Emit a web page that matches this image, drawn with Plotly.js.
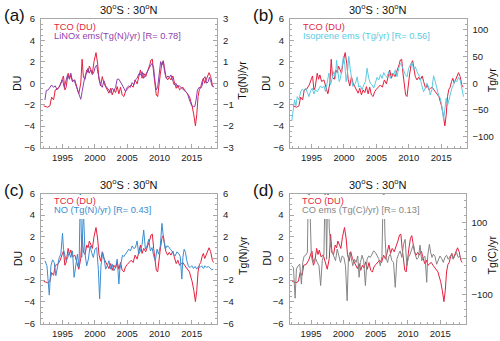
<!DOCTYPE html>
<html><head><meta charset="utf-8">
<script src="https://cdn.plot.ly/plotly-3.0.1.min.js"></script>
<style>html,body{margin:0;padding:0;background:#fff}#chart{width:500px;height:341px}</style>
</head><body><div id="chart"></div>
<script>
// ---- data ----
const tcoYears = [1992.10,1992.69,1993.05,1993.31,1993.62,1993.87,1994.23,1994.64,1995.00,1995.15,
1995.36,1995.56,1995.87,1996.08,1996.28,1996.54,1996.90,1997.21,1997.51,1997.82,
1998.03,1998.23,1998.49,1998.74,1998.95,1999.15,1999.36,1999.62,1999.87,2000.18,
2000.44,2000.64,2000.90,2001.15,2001.41,2001.67,2001.92,2002.18,2002.44,2002.69,
2002.95,2003.21,2003.46,2003.72,2003.97,2004.23,2004.49,2004.74,2005.00,2005.26,
2005.62,2005.92,2006.23,2006.54,2006.79,2007.05,2007.31,2007.56,2007.87,2008.18,
2008.49,2008.69,2008.90,2009.10,2009.31,2009.51,2009.72,2009.92,2010.13,2010.38,
2010.59,2010.74,2011.00,2011.26,2011.51,2011.77,2012.08,2012.28,2012.59,2012.85,
2013.10,2013.36,2013.62,2013.87,2014.13,2014.38,2014.64,2014.85,2015.05,2015.31,
2015.56,2015.77,2015.97,2016.18,2016.38,2016.59,2016.79,2017.00,2017.21,2017.41,
2017.67,2017.92,2018.18,2018.38];
const tcoDU = [-2.11,-2.24,-2.11,-1.30,-1.55,-0.62,-0.56,-0.16,0.47,0.68,
-0.62,-0.37,0.93,0.37,0.78,0.16,0.31,-0.37,-0.99,0.00,
2.24,0.56,0.37,1.24,0.99,1.61,1.24,0.93,2.02,2.86,
1.80,0.37,-0.25,0.62,0.00,-0.37,-0.62,-0.93,-0.47,-1.09,
-0.62,-0.87,-0.31,-0.99,-0.37,-1.09,-1.24,-0.78,-0.56,-0.37,
-0.16,-0.37,0.31,-0.06,0.62,1.24,0.47,0.93,0.62,1.09,
1.71,2.17,2.24,0.93,-0.47,-1.09,-1.24,0.00,0.87,1.86,
2.11,1.55,0.62,0.31,0.56,0.31,0.68,0.16,-0.47,-0.16,
-0.62,-0.47,-0.37,-0.62,-0.87,-1.09,-1.24,-1.71,-2.11,-2.95,
-3.98,-2.95,-1.24,-0.56,-0.37,0.16,0.47,0.00,0.31,0.56,
0.99,0.62,-0.16,-0.37];

const linoxYears = [1992.28,1992.49,1992.79,1993.10,1993.31,1993.62,1993.87,1994.13,1994.49,1994.74,
1995.00,1995.26,1995.51,1995.77,1996.03,1996.28,1996.54,1996.79,1997.05,1997.31,
1997.56,1997.82,1998.03,1998.23,1998.44,1998.74,1998.95,1999.15,1999.36,1999.62,
1999.87,2000.08,2000.28,2000.49,2000.69,2000.90,2001.15,2001.41,2001.67,2001.92,
2002.18,2002.44,2002.69,2002.95,2003.21,2003.46,2003.72,2003.97,2004.23,2004.49,
2004.74,2005.00,2005.26,2005.51,2005.77,2006.03,2006.28,2006.54,2006.79,2007.05,
2007.31,2007.56,2007.82,2008.08,2008.33,2008.59,2008.85,2009.10,2009.31,2009.51,
2009.72,2009.92,2010.18,2010.38,2010.59,2010.79,2011.05,2011.31,2011.56,2011.77,
2012.03,2012.28,2012.54,2012.79,2013.05,2013.31,2013.56,2013.82,2014.08,2014.33,
2014.54,2014.74,2015.00,2015.26,2015.46,2015.67,2015.87,2016.13,2016.38,2016.59,
2016.79,2017.05,2017.31,2017.56,2017.72,2017.92,2018.13,2018.38];
const linoxTgN = [-0.78,-0.34,-0.31,-0.19,-0.08,-0.19,-0.12,-0.28,-0.19,0.00,
0.16,-0.19,0.16,0.39,0.23,0.47,0.08,0.16,-0.08,-0.31,
-0.47,-0.75,-0.39,-0.08,0.28,0.54,0.70,0.47,0.62,0.39,
0.54,0.78,0.85,0.47,0.23,-0.08,-0.19,0.12,-0.12,-0.23,
-0.31,-0.43,-0.23,-0.34,-0.19,0.19,0.19,0.08,-0.08,-0.23,
-0.39,-0.19,-0.12,-0.19,0.03,-0.08,0.16,0.23,0.43,0.39,
0.54,0.23,0.39,0.54,0.70,0.81,0.93,0.70,0.08,-0.31,
-0.19,0.34,1.01,0.85,1.01,0.54,0.23,0.34,0.28,0.39,
0.19,-0.08,0.00,-0.19,-0.12,-0.19,-0.28,-0.34,-0.39,-0.47,
-0.70,-0.85,-1.06,-1.09,-1.09,-0.78,-0.31,-0.19,-0.23,-0.12,
0.19,0.31,0.00,0.08,0.28,0.12,-0.12,-0.16];

const isoYears = [1991.95,1992.18,1992.38,1992.59,1992.79,1993.05,1993.31,1993.56,1993.82,1994.08,
1994.33,1994.59,1994.85,1995.10,1995.36,1995.62,1995.87,1996.13,1996.38,1996.64,
1996.90,1997.15,1997.41,1997.67,1997.92,1998.18,1998.44,1998.69,1998.85,1999.05,
1999.26,1999.46,1999.72,1999.92,2000.13,2000.33,2000.54,2000.74,2000.95,2001.15,
2001.36,2001.56,2001.77,2002.03,2002.28,2002.54,2002.79,2003.05,2003.31,2003.56,
2003.82,2004.08,2004.33,2004.59,2004.85,2005.10,2005.36,2005.62,2005.87,2006.13,
2006.38,2006.64,2006.90,2007.15,2007.41,2007.67,2007.92,2008.18,2008.44,2008.69,
2008.95,2009.21,2009.46,2009.72,2009.97,2010.23,2010.49,2010.74,2011.00,2011.26,
2011.51,2011.77,2012.03,2012.28,2012.54,2012.79,2013.05,2013.31,2013.56,2013.82,
2014.08,2014.33,2014.59,2014.85,2015.10,2015.36,2015.56,2015.77,2015.97,2016.18,
2016.38,2016.64,2016.90,2017.15,2017.41,2017.67,2017.92,2018.18,2018.44];
const isoTg = [-70,-50,-31,-42,-25,-31,-16,-11,-14,-9,
-16,-25,-14,-9,-20,-12,-16,-11,-5,-9,
-5,-16,6,19,-3,11,22,9,43,22,
3,9,32,51,34,3,20,50,28,6,
-6,-3,0,12,-7,-5,-12,-3,3,28,
9,0,-3,-9,1,11,6,16,9,20,
14,11,22,9,19,16,25,12,28,37,
32,22,16,12,28,34,39,25,31,22,
16,9,-5,-16,-9,0,-7,-22,-12,14,
3,-9,-22,-28,-43,-68,-50,-28,-42,-31,
-19,-9,-3,6,3,11,6,-7,-25];

const noYears = [1992.28,1992.59,1992.95,1993.21,1993.46,1993.72,1993.97,1994.23,1994.49,1994.74,
1995.00,1995.15,1995.36,1995.56,1995.77,1996.03,1996.28,1996.54,1996.79,1997.05,
1997.31,1997.56,1997.77,1997.97,1998.23,1998.49,1998.74,1999.00,1999.26,1999.51,
1999.77,2000.03,2000.28,2000.54,2000.74,2000.95,2001.21,2001.41,2001.67,2001.92,
2002.18,2002.44,2002.69,2002.95,2003.21,2003.46,2003.72,2003.87,2004.08,2004.28,
2004.49,2004.74,2005.00,2005.26,2005.51,2005.77,2006.03,2006.28,2006.54,2006.79,
2007.05,2007.31,2007.56,2007.82,2008.08,2008.33,2008.59,2008.85,2009.10,2009.36,
2009.62,2009.87,2010.13,2010.38,2010.64,2010.90,2011.15,2011.41,2011.67,2011.92,
2012.18,2012.44,2012.69,2012.95,2013.21,2013.46,2013.62,2013.82,2014.03,2014.23,
2014.49,2014.74,2015.00,2015.26,2015.51,2015.77,2016.03,2016.28,2016.54,2016.79,
2017.05,2017.31,2017.56,2017.82,2018.08,2018.33];
const noTgN = [-0.21,-0.67,-3.36,-0.67,-0.12,-0.37,-1.59,-0.52,0.09,0.40,
2.32,0.86,0.18,-0.21,0.00,0.55,0.09,0.70,-1.74,-0.37,
0.40,-0.83,7.0,0.10,4.5,0.40,-0.67,-0.06,1.16,0.55,
0.09,0.86,1.01,-0.98,-3.73,-0.67,0.55,0.09,-0.98,-0.67,
-0.21,-0.98,-0.52,-1.13,-0.83,-0.06,-2.35,-0.98,-0.06,0.31,
0.18,0.40,0.55,0.86,0.70,1.16,0.92,1.01,1.62,0.40,
0.70,1.31,2.63,0.86,1.16,1.77,0.70,1.01,0.24,-0.21,
0.86,0.40,1.16,3.24,1.77,0.86,1.16,1.10,0.86,0.70,
0.40,0.24,0.61,0.49,0.18,-1.90,0.09,0.86,0.55,-0.21,
-0.73,-0.83,-0.67,-0.92,-0.73,-0.98,-0.73,-0.83,-0.67,-0.92,
-0.67,-0.83,-0.73,-0.92,-1.04,-0.98];

const coYears = [1991.97,1992.28,1992.54,1992.74,1993.00,1993.26,1993.51,1993.72,1993.92,1994.18,
1994.44,1994.62,1994.74,1995.05,1995.26,1995.46,1995.72,1995.97,1996.23,1996.49,
1996.74,1997.00,1997.21,1997.41,1997.62,1997.82,1998.03,1998.28,1998.54,1998.79,
1999.05,1999.31,1999.56,1999.82,2000.08,2000.33,2000.59,2000.79,2001.00,2001.21,
2001.46,2001.72,2001.97,2002.23,2002.44,2002.64,2002.90,2003.15,2003.41,2003.67,
2003.92,2004.18,2004.44,2004.69,2004.95,2005.21,2005.46,2005.72,2005.97,2006.23,
2006.44,2006.64,2006.85,2007.05,2007.26,2007.51,2007.77,2008.03,2008.28,2008.54,
2008.79,2009.05,2009.31,2009.56,2009.82,2010.08,2010.33,2010.59,2010.85,2011.10,
2011.36,2011.62,2011.87,2012.13,2012.38,2012.64,2012.90,2013.05,2013.31,2013.51,
2013.72,2013.92,2014.18,2014.44,2014.69,2014.95,2015.21,2015.46,2015.72,2015.97,
2016.23,2016.49,2016.74,2017.00,2017.26,2017.51,2017.77,2018.03,2018.28];
const coTgC = [-20,-25,-110,-29,-20,-16,-71,-11,6,9,
17,240,200,7,-11,-2,0,-11,-20,-75,
-6,12,240,-2,240,85,35,17,3,-6,
26,6,-11,7,3,-20,-117,3,17,3,
-20,-2,-11,7,-52,-11,9,-6,-75,-2,
7,3,12,21,17,9,0,-20,6,240,
62,0,-11,6,12,-6,-11,-80,-2,12,
21,3,39,53,-20,3,12,26,39,12,
-2,3,37,-6,3,6,-66,7,39,17,
3,12,6,-16,-2,7,0,-11,3,9,
-2,6,12,-2,9,17,3,6,-2];

const panelLabels = ['(a)','(b)','(c)','(d)'];
const regionTitle = '30<sup>o</sup>S : 30<sup>o</sup>N';
const leftTitle = 'DU';
const rightTitles = ['Tg(N)/yr','Tg/yr','Tg(N)/yr','Tg(C)/yr'];
const seriesNames = ['LiNOx ems(Tg(N)/yr) [R= 0.78]','Isoprene ems (Tg/yr) [R= 0.56]','NO (Tg(N)/yr) [R= 0.43]','CO ems (Tg(C)/yr) [R= 0.13]'];
const tcoName = 'TCO (DU)';
const yearTicks = [1995,2000,2005,2010,2015];

// ---- styling ----
const FONT = 'Liberation Sans, Arial, Helvetica, sans-serif';
const RED = '#e41f3d';
const COLORS = ['#8f3fae','#5ccbe2','#3b8dd0','#858585'];
const AX = '#a8a8a8';
const W = 500, H = 341;
const px = v => v / W, py = v => 1 - v / H;

// panel boxes in pixels [left,right,top,bottom]
const boxes = [[41,217,19,147.5],[290,466.5,19,147.5],[41,217,193.5,323.5],[289.5,465.5,193.5,323.5]];
const rightCfg = [
  {range:[-3,3], dtick:1, minor:0.25},
  {range:[-120,120], dtick:50, minor:10},
  {range:[-6,6], dtick:2, minor:0.5},
  {range:[-180,180], dtick:100, minor:20}
];
const secX = [linoxYears, isoYears, noYears, coYears];
const secY = [linoxTgN, isoTg, noTgN, coTgC];

const layout = {width:W, height:H, margin:{l:0,r:0,t:0,b:0}, paper_bgcolor:'#fff', plot_bgcolor:'#fff',
  showlegend:false, font:{family:FONT, size:9.5, color:'#222'}, annotations:[], shapes:[]};
const data = [];

boxes.forEach((b, i) => {
  const xa = i === 0 ? 'x' : 'x' + (i + 1);
  const yl = 'y' + (i === 0 ? '' : (2 * i + 1));
  const yr = 'y' + (2 * i + 2);
  const xk = i === 0 ? 'xaxis' : 'xaxis' + (i + 1);
  const ylk = i === 0 ? 'yaxis' : 'yaxis' + (2 * i + 1);
  const yrk = 'yaxis' + (2 * i + 2);
  layout[xk] = {domain:[px(b[0]), px(b[1])], anchor:yl, range:[1991.67, 2018.9], tickmode:'array', tickvals:yearTicks,
    ticktext:yearTicks.map(String), showgrid:false, zeroline:false, showline:true, mirror:true, linecolor:AX, linewidth:1,
    ticks:'inside', ticklen:4, tickcolor:AX, tickfont:{size:9.5, color:'#222'}, ticklabelstandoff:1,
    minor:{tickmode:'array', tickvals:Array.from({length:27},(_, k)=>1992+k), ticks:'inside', ticklen:2, tickcolor:AX}};
  layout[ylk] = {domain:[py(b[3]), py(b[2])], anchor:xa, range:[-6,6], tick0:0, dtick:2, showgrid:false, zeroline:false,
    showline:true, mirror:true, linecolor:AX, linewidth:1, ticks:'inside', ticklen:4, tickcolor:AX,
    tickfont:{size:9.5, color:'#222'}, ticklabelstandoff:3,
    minor:{dtick:0.5, ticks:'inside', ticklen:2, tickcolor:AX}};
  const rc = rightCfg[i];
  layout[yrk] = {overlaying:yl, anchor:xa, side:'right', range:rc.range, tick0:0, dtick:rc.dtick, showgrid:false,
    zeroline:false, showline:true, linecolor:AX, linewidth:1, ticks:'inside', ticklen:4, tickcolor:AX,
    tickfont:{size:9.5, color:'#222'}, ticklabelstandoff:3,
    minor:{dtick:rc.minor, ticks:'inside', ticklen:2, tickcolor:AX}};

  data.push({x:tcoYears, y:tcoDU, xaxis:xa, yaxis:yl, type:'scatter', mode:'lines', line:{color:RED, width:1}, name:tcoName});
  data.push({x:secX[i], y:secY[i], xaxis:xa, yaxis:yr, type:'scatter', mode:'lines', line:{color:COLORS[i], width:1}, name:seriesNames[i]});

  const cx = (b[0] + b[1]) / 2;
  // title
  layout.annotations.push({xref:'paper', yref:'paper', x:px(cx), y:py(b[2] - 9.5), text:regionTitle, showarrow:false,
    xanchor:'center', yanchor:'middle', font:{size:11, color:'#111'}});
  // panel label
  layout.annotations.push({xref:'paper', yref:'paper', x:px(b[0] - 39), y:py(b[2] - 3), text:panelLabels[i], showarrow:false,
    xanchor:'left', yanchor:'middle', font:{size:17, color:'#111'}});
  // left title
  layout.annotations.push({xref:'paper', yref:'paper', x:px(b[0] - 23.5), y:py((b[2] + b[3]) / 2), text:leftTitle, showarrow:false,
    textangle:-90, xanchor:'center', yanchor:'middle', font:{size:10.5, color:'#111'}});
  // right title
  layout.annotations.push({xref:'paper', yref:'paper', x:px(b[1] + 25.5), y:py((b[2] + b[3]) / 2 - 3), text:rightTitles[i], showarrow:false,
    textangle:-90, xanchor:'center', yanchor:'middle', font:{size:10.5, color:'#111'}});
  // legend box + texts
  const lx = b[0] + 10.5;
  if (i >= 2) {
    layout.shapes.push({type:'rect', xref:'paper', yref:'paper', x0:px(lx - 2), x1:px(lx + 114), y0:py(b[2] + 25.5), y1:py(b[2] + 1.5),
      fillcolor:'#fff', line:{width:0}, layer:'above'});
  }
  layout.annotations.push({xref:'paper', yref:'paper', x:px(lx), y:py(b[2] + 7.5), text:tcoName, showarrow:false,
    xanchor:'left', yanchor:'middle', font:{size:9.3, color:RED}});
  layout.annotations.push({xref:'paper', yref:'paper', x:px(lx), y:py(b[2] + 16.5), text:seriesNames[i], showarrow:false,
    xanchor:'left', yanchor:'middle', font:{size:9.3, color:COLORS[i]}});
});

Plotly.newPlot('chart', data, layout, {staticPlot:true, displayModeBar:false});
</script>
</body></html>
